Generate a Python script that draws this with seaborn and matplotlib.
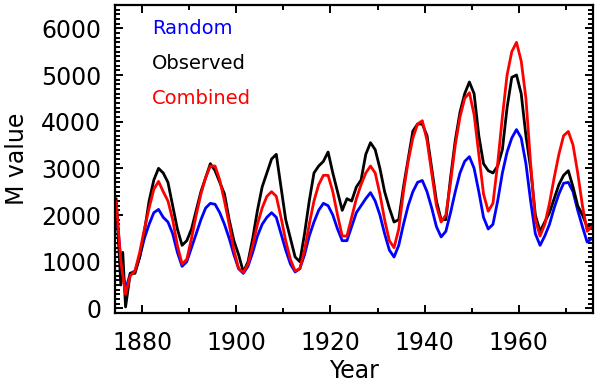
import numpy as np
import pandas as pd
import matplotlib
matplotlib.use('Agg')
import matplotlib.pyplot as plt
from matplotlib.ticker import MultipleLocator
import seaborn as sns

# ── data ──────────────────────────────────────────────────────────────────
years = np.arange(1874.5, 1976, 1.0)

random_m = [
    2200, 1000, 400, 750, 800, 1100, 1500, 1800, 2050, 2120,
    1950, 1850, 1600, 1200, 900, 1000, 1300, 1600, 1900, 2150,
    2250, 2230, 2050, 1800, 1500, 1150, 850, 750, 900, 1200,
    1550, 1800, 1950, 2050, 1950, 1600, 1250, 950, 780, 850,
    1150, 1550, 1850, 2100, 2250, 2200, 2000, 1700, 1450, 1450,
    1750, 2050, 2200, 2350, 2480, 2300, 2000, 1600, 1250, 1100,
    1350, 1800, 2200, 2500, 2700, 2740, 2500, 2150, 1750, 1530,
    1650, 2050, 2500, 2900, 3150, 3250, 3000, 2500, 1950, 1700,
    1800, 2300, 2900, 3350, 3650, 3830, 3650, 3100, 2300, 1600,
    1350, 1550, 1800, 2150, 2450, 2680, 2700, 2500, 2100, 1750,
    1420, 1500,
]

combined_m = [
    2300, 1000, 300, 700, 800, 1200, 1700, 2150, 2550, 2720,
    2500, 2300, 1900, 1350, 950, 1050, 1500, 2000, 2450, 2800,
    3050, 3050, 2750, 2300, 1800, 1250, 850, 770, 950, 1350,
    1800, 2150, 2400, 2500, 2400, 1950, 1450, 1050, 800, 850,
    1250, 1800, 2300, 2650, 2850, 2850, 2500, 2000, 1550, 1550,
    1950, 2350, 2650, 2900, 3050, 2900, 2450, 1900, 1450, 1300,
    1700, 2500, 3150, 3650, 3950, 4020, 3600, 2900, 2200, 1850,
    2000, 2700, 3500, 4100, 4500, 4620, 4150, 3300, 2450, 2080,
    2250, 3100, 4100, 5000, 5500, 5700, 5300, 4500, 3100, 1900,
    1550, 1800, 2250, 2800, 3300, 3700, 3790, 3500, 2900, 2200,
    1650, 1750,
]

observed_m = [
    2350, 500, 30, 750, 750, 1100, 1650, 2300, 2750, 3000,
    2900, 2700, 2200, 1700, 1350, 1450, 1700, 2100, 2500, 2800,
    3100, 2950, 2700, 2450, 1900, 1450, 1150, 780, 1000, 1500,
    2100, 2600, 2900, 3200, 3300, 2600, 1900, 1500, 1100, 1000,
    1600, 2300, 2900, 3050, 3150, 3350, 2900, 2500, 2100, 2350,
    2300, 2600, 2750, 3300, 3550, 3400, 3000, 2500, 2150, 1850,
    1900, 2600, 3200, 3800, 3950, 3950, 3700, 3000, 2300, 1900,
    1900, 2800, 3600, 4200, 4600, 4850, 4600, 3700, 3100, 2950,
    2900, 3050, 3400, 4300, 4950, 5000, 4600, 3700, 3000, 2000,
    1650, 1850, 2050, 2350, 2650, 2850, 2950, 2600, 2200, 2000,
    1750, 1800,
]
# extra early spike in the observed series
observed_extra_years = [1875.9]
observed_extra_m = [1200]

labels = ['Random', 'Observed', 'Combined']
colors = ['#0000ff', '#000000', '#ff0000']

# ── long table for seaborn ────────────────────────────────────────────────
obs_years = np.concatenate([years, observed_extra_years])
obs_vals = np.concatenate([observed_m, observed_extra_m])
order = np.argsort(obs_years)

df = pd.concat([
    pd.DataFrame({'year': years, 'M': random_m, 'series': 'Random'}),
    pd.DataFrame({'year': obs_years[order], 'M': obs_vals[order], 'series': 'Observed'}),
    pd.DataFrame({'year': years, 'M': combined_m, 'series': 'Combined'}),
], ignore_index=True)

sns.set_style('ticks', {'axes.edgecolor': 'black', 'text.color': 'black',
                        'axes.labelcolor': 'black', 'xtick.color': 'black',
                        'ytick.color': 'black'})
plt.rcParams['font.family'] = ['DejaVu Sans']

fig, ax = plt.subplots(figsize=(6.0, 3.85), dpi=100)
fig.subplots_adjust(left=0.192, right=0.988, top=0.987, bottom=0.187)

sns.lineplot(data=df, x='year', y='M', hue='series', hue_order=labels,
             palette=dict(zip(labels, colors)), linewidth=2.0,
             sort=False, estimator=None, legend=False, ax=ax)

ax.set_xlim(1874.3, 1975.7)
ax.set_ylim(-100, 6500)
ax.xaxis.set_major_locator(MultipleLocator(20))
ax.xaxis.set_minor_locator(MultipleLocator(10))
ax.yaxis.set_major_locator(MultipleLocator(1000))
ax.yaxis.set_minor_locator(MultipleLocator(100))
ax.tick_params(which='both', direction='in', top=True, right=True,
               width=1.4, labelsize=17, colors='black')
ax.tick_params(which='major', length=6)
ax.tick_params(which='minor', length=3.5)
ax.tick_params(axis='x', which='major', pad=13)
ax.tick_params(axis='y', which='major', pad=10)
for sp in ax.spines.values():
    sp.set_linewidth(1.6)
    sp.set_color('black')

ax.set_xlabel('Year', fontsize=17, labelpad=3, color='black')
ax.set_ylabel('M value', fontsize=17, labelpad=9, color='black')

# coloured text labels in place of a legend
for i, (lab, col) in enumerate(zip(labels, colors)):
    ax.text(0.077, 0.925 - i * 0.115, lab, color=col, fontsize=14,
            transform=ax.transAxes, va='center', ha='left')

plt.savefig('out.png', dpi=100)
plt.close()
